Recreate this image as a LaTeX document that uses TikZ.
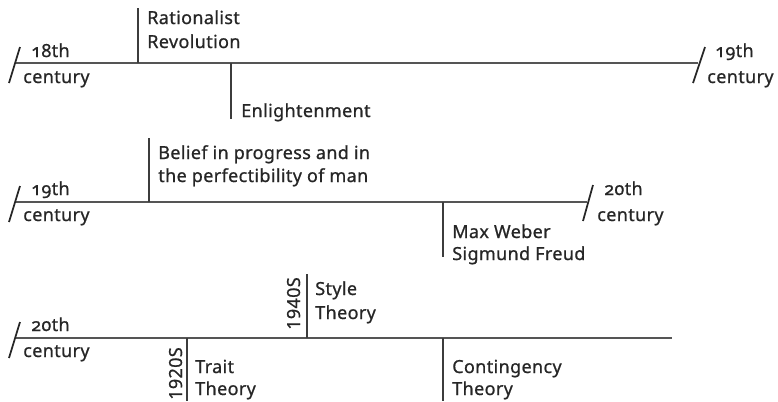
\documentclass[tikz,border=0pt]{standalone}
\usepackage{fontspec}
\setmainfont{Noto Sans}[Numbers=OldStyle,LetterSpace=2,FakeBold=0.8]
\definecolor{txt}{RGB}{38,38,38}
\definecolor{axis}{RGB}{85,85,85}
\definecolor{tick}{RGB}{60,60,60}
\tikzset{
  lbl/.style={inner sep=0pt, anchor=base west, text=txt, font=\fontsize{13.5pt}{18pt}\selectfont, align=left},
  yr/.style={inner sep=0pt, anchor=base east, rotate=90, text=txt, font=\fontsize{13.5pt}{18pt}\selectfont\addfontfeatures{Numbers=Lining}},
  axisline/.style={draw=axis, line width=1.2pt},
  tickline/.style={draw=tick, line width=0.9pt},
  slash/.style={draw=txt, line width=1.3pt}
}
\begin{document}
\begin{tikzpicture}[x=0.75pt, y=-0.75pt]
\useasboundingbox (0,0) rectangle (778,401);
% ---------- Row 1 ----------
\coordinate (a1s) at (15,63);
\coordinate (a1e) at (698,63);
\draw[axisline] (a1s) -- (a1e);
\coordinate (s1a) at (20,47); \coordinate (s1b) at (9,83);
\draw[slash] (s1a) -- (s1b);
\coordinate (s2a) at (705,47); \coordinate (s2b) at (693,83);
\draw[slash] (s2a) -- (s2b);
\coordinate (t1a) at (138,63); \coordinate (t1b) at (138,8);
\draw[tickline] (t1a) -- (t1b);
\coordinate (t2a) at (231,63); \coordinate (t2b) at (231,119);
\draw[tickline] (t2a) -- (t2b);
\node[lbl] (c18a) at (31,57) {18th};
\node[lbl] (c18b) at (23,83) {century};
\node[lbl] (rat) at (147,24) {Rationalist};
\node[lbl] (rev) at (147,48) {Revolution};
\node[lbl] (enl) at (241,117) {Enlightenment};
\node[lbl] (c19a) at (715,57) {19th};
\node[lbl] (c19b) at (707,83) {century};
% ---------- Row 2 ----------
\coordinate (a2s) at (15,202);
\coordinate (a2e) at (587,202);
\draw[axisline] (a2s) -- (a2e);
\coordinate (s3a) at (20,186); \coordinate (s3b) at (9,222);
\draw[slash] (s3a) -- (s3b);
\coordinate (s4a) at (593,185); \coordinate (s4b) at (583,221);
\draw[slash] (s4a) -- (s4b);
\coordinate (t3a) at (149,202); \coordinate (t3b) at (149,138);
\draw[tickline] (t3a) -- (t3b);
\coordinate (t4a) at (443,202); \coordinate (t4b) at (443,257);
\draw[tickline] (t4a) -- (t4b);
\node[lbl] (c19c) at (31,195) {19th};
\node[lbl] (c19d) at (23,221) {century};
\node[lbl] (bel1) at (158,159) {Belief in progress and in};
\node[lbl] (bel2) at (158,182) {the perfectibility of man};
\node[lbl] (mw) at (452,238) {Max Weber};
\node[lbl] (sf) at (452,260) {Sigmund Freud};
\node[lbl] (c20a) at (604,195) {20th};
\node[lbl] (c20b) at (597,221) {century};
% ---------- Row 3 ----------
\coordinate (a3s) at (15,338);
\coordinate (a3e) at (672,338);
\draw[axisline] (a3s) -- (a3e);
\coordinate (s5a) at (20,322); \coordinate (s5b) at (9,358);
\draw[slash] (s5a) -- (s5b);
\coordinate (t5a) at (307,338); \coordinate (t5b) at (307,274);
\draw[tickline] (t5a) -- (t5b);
\coordinate (t6a) at (187,338); \coordinate (t6b) at (187,401);
\draw[tickline] (t6a) -- (t6b);
\coordinate (t7a) at (443,338); \coordinate (t7b) at (443,401);
\draw[tickline] (t7a) -- (t7b);
\node[lbl] (c20c) at (31,331) {20th};
\node[lbl] (c20d) at (23,357) {century};
\node[lbl] (sty1) at (315,295) {Style};
\node[lbl] (sty2) at (315,319) {Theory};
\node[yr] (y40) at (300,277) {1940S};
\node[lbl] (tr1) at (195,373) {Trait};
\node[lbl] (tr2) at (195,395) {Theory};
\node[yr] (y20) at (182,347) {1920S};
\node[lbl] (con1) at (452,373) {Contingency};
\node[lbl] (con2) at (452,395) {Theory};
\end{tikzpicture}
\end{document}
